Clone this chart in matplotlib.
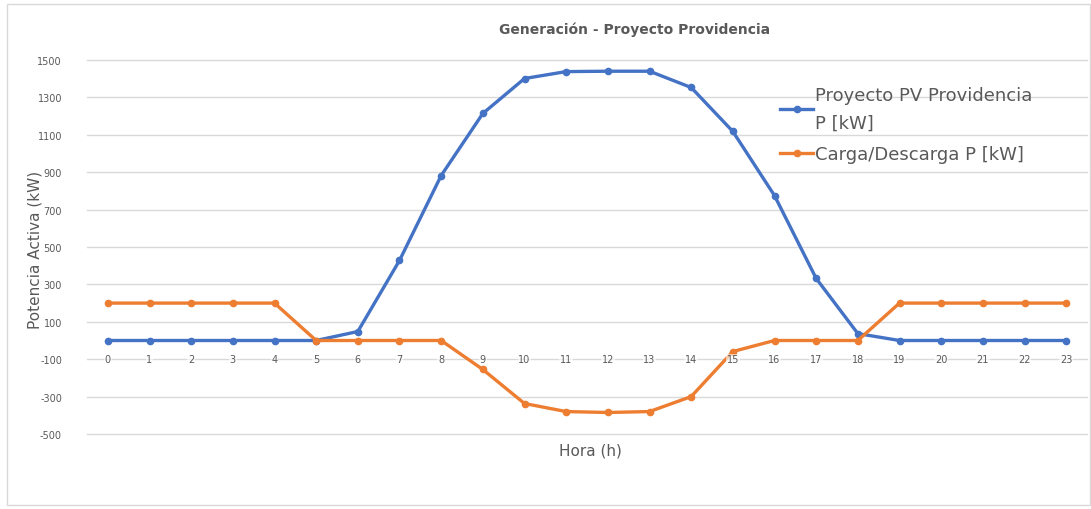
import numpy as np
import matplotlib.pyplot as plt
from matplotlib.patches import Rectangle

# hourly values
hours = list(range(24))
pv_kw = [0, 0, 0, 0, 0, 0, 48, 428, 882, 1214, 1401, 1438, 1440, 1440,
         1353, 1118, 775, 332, 37, 0, 0, 0, 0, 0]
bess_kw = [200, 200, 200, 200, 200, 0, 0, 0, 0, -155, -337, -380, -385, -380,
           -300, -59, 0, 0, 0, 200, 200, 200, 200, 200]
y_ticks = [1500, 1300, 1100, 900, 700, 500, 300, 100, -100, -300, -500]

grey = '#595959'
blue = '#4472C4'
orange = '#ED7D31'

fig = plt.figure(figsize=(10.91, 5.10), dpi=100)
fig.patches.append(Rectangle((7 / 1091, 1 - 506 / 510), 1083 / 1091, 501 / 510,
                             transform=fig.transFigure, fill=False,
                             edgecolor='#d9d9d9', linewidth=1))

ax = fig.add_axes([87 / 1091, 1 - 435 / 510, 1000 / 1091, 374 / 510])

ax.plot(hours, pv_kw, color=blue, lw=2.4, marker='o', ms=4.5,
        label='Proyecto PV Providencia\nP [kW]')
ax.plot(hours, bess_kw, color=orange, lw=2.4, marker='o', ms=4.5,
        label='Carga/Descarga P [kW]')

ax.set_xlim(-0.5, 23.5)
ax.set_ylim(-500, 1500)
ax.set_yticks(y_ticks)
ax.set_yticklabels([str(v) for v in y_ticks], fontsize=7, color=grey)
ax.tick_params(axis='y', length=0, pad=18)
ax.set_xticks([])
ax.grid(axis='y', color='#d9d9d9', lw=1)
for gl in ax.get_ygridlines():
    gl.set_clip_on(False)
ax.set_axisbelow(True)
for s in ax.spines.values():
    s.set_visible(False)

# category labels sit on the -100 gridline, as in the original
for h in hours:
    ax.text(h, -100, str(h), ha='center', va='center', fontsize=7, color=grey,
            bbox=dict(facecolor='white', edgecolor='none', pad=0.5, alpha=0.6))

fig.text(35 / 1091, 1 - 250 / 510, 'Potencia Activa (kW)', fontsize=11,
         color=grey, rotation=90, ha='center', va='center')
fig.text(590 / 1091, 1 - 451 / 510, 'Hora (h)', fontsize=11, color=grey,
         ha='center', va='center')
fig.text(635 / 1091, 1 - 30 / 510, 'Generación - Proyecto Providencia',
         fontsize=10, color=grey, ha='center', va='center', fontweight='bold')

leg = ax.legend(loc='upper left', bbox_to_anchor=(0.677, 0.975), frameon=False,
                fontsize=13, handlelength=1.8, handletextpad=0.1,
                labelspacing=0.75, labelcolor=grey)
for t in leg.get_texts():
    t.set_linespacing(1.7)

fig.savefig('out.png', dpi=100)
